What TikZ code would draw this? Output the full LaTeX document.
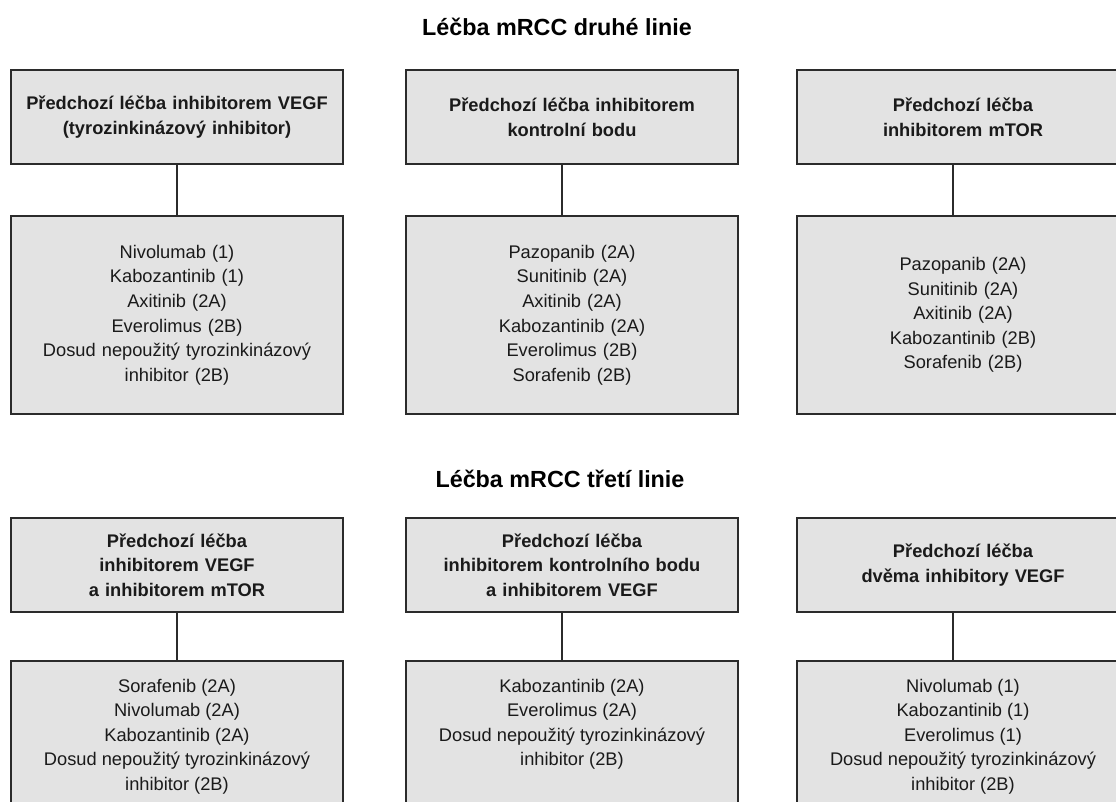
\documentclass[tikz,border=0pt]{standalone}
\usepackage{fontspec}
\setmainfont{Liberation Sans}
\usetikzlibrary{positioning}
\definecolor{boxfill}{HTML}{E3E3E3}
\definecolor{boxline}{HTML}{2B2B2B}
\definecolor{textcol}{HTML}{1A1A1A}
\newcommand{\druglist}[1]{\parbox[c][110pt][t]{249pt}{\centering #1}}

\begin{document}
\begin{tikzpicture}[x=0.75pt,y=-0.75pt,
        box/.style={draw=boxline,line width=1.5pt,fill=boxfill,minimum width=249pt,inner sep=0pt,anchor=north west,text=textcol},
        head/.style={box,minimum height=70.5pt,text width=240pt,align=center,font=\fontsize{13.7}{18.4}\selectfont\bfseries},
        drugs/.style={box,minimum height=148.5pt,text width=240pt,align=center,font=\fontsize{13.7}{18.4}\selectfont},
        drugstop/.style={box,inner ysep=13.6pt,font=\fontsize{13.7}{18.4}\selectfont},
        title/.style={font=\fontsize{17.5}{21}\selectfont\bfseries},
        link/.style={draw=boxline,line width=1.1pt}]
            \path[use as bounding box,clip] (0,0) rectangle (1116,801);

            % druha linie
            \node[title] (T1) at (557,27) {Léčba mRCC druhé linie};
            \node[head] (H1) at (10,69) {Předchozí léčba inhibitorem VEGF\\(tyrozinkinázový inhibitor)};
            \node[head] (H2) at (405,69) {Předchozí léčba inhibitorem\\kontrolní bodu};
            \node[head] (H3) at (796,69) {Předchozí léčba\\inhibitorem mTOR};
            \node[drugs] (L1) at (10,215) {Nivolumab (1)\\Kabozantinib (1)\\Axitinib (2A)\\Everolimus (2B)\\Dosud nepoužitý tyrozinkinázový\\inhibitor (2B)};
            \node[drugs] (L2) at (405,215) {Pazopanib (2A)\\Sunitinib (2A)\\Axitinib (2A)\\Kabozantinib (2A)\\Everolimus (2B)\\Sorafenib (2B)};
            \node[drugs] (L3) at (796,215) {Pazopanib (2A)\\Sunitinib (2A)\\Axitinib (2A)\\Kabozantinib (2B)\\Sorafenib (2B)};

            \draw[link] (H1) -- (L1);
            \draw[link] ([xshift=-7.5pt]H2.south) -- ([xshift=-7.5pt]L2.north);
            \draw[link] ([xshift=-7.5pt]H3.south) -- ([xshift=-7.5pt]L3.north);

            % treti linie
            \node[title] (T2) at (560,479) {Léčba mRCC třetí linie};
            \node[head] (H4) at (10,517) {Předchozí léčba\\inhibitorem VEGF\\a inhibitorem mTOR};
            \node[head] (H5) at (405,517) {Předchozí léčba\\inhibitorem kontrolního bodu\\a inhibitorem VEGF};
            \node[head] (H6) at (796,517) {Předchozí léčba\\dvěma inhibitory VEGF};
            \node[drugstop] (L4) at (10,660) {\druglist{Sorafenib (2A)\\Nivolumab (2A)\\Kabozantinib (2A)\\Dosud nepoužitý tyrozinkinázový\\inhibitor (2B)}};
            \node[drugstop] (L5) at (405,660) {\druglist{Kabozantinib (2A)\\Everolimus (2A)\\Dosud nepoužitý tyrozinkinázový\\inhibitor (2B)}};
            \node[drugstop] (L6) at (796,660) {\druglist{Nivolumab (1)\\Kabozantinib (1)\\Everolimus (1)\\Dosud nepoužitý tyrozinkinázový\\inhibitor (2B)}};

            \draw[link] (H4.south) -- (L4.north);
            \draw[link] ([xshift=-7.5pt]H5.south) -- ([xshift=-7.5pt]L5.north);
            \draw[link] ([xshift=-7.5pt]H6.south) -- ([xshift=-7.5pt]L6.north);
        \end{tikzpicture}
\end{document}
